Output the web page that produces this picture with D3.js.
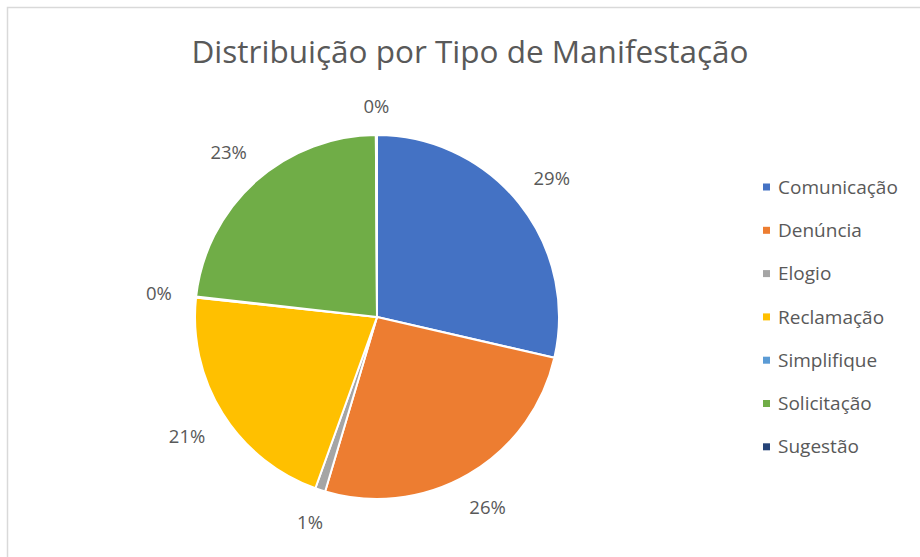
<!DOCTYPE html>
<html>
<head>
<meta charset="utf-8">
<script src="https://cdn.jsdelivr.net/npm/d3@7"></script>
<style>
  body { margin: 0; background: #fff; }
  svg { display: block; }
</style>
</head>
<body>
<svg width="920" height="557"></svg>
<script>
// data (percent of total)
var categories = ["Comunicação", "Denúncia", "Elogio", "Reclamação", "Simplifique", "Solicitação", "Sugestão"];
var values = [28.6, 26.0, 0.9, 21.2, 0.1, 23.1, 0.1];
var colors = ["#4472C4", "#ED7D31", "#A5A5A5", "#FFC000", "#5B9BD5", "#70AD47", "#264478"];

var width = 920, height = 557,
    cx = 377, cy = 317, radius = 182;

var svg = d3.select("svg");

// chart frame (only top and left edge show in the picture)
svg.append("rect")
    .attr("x", 7.5).attr("y", 7.5)
    .attr("width", width).attr("height", height)
    .attr("fill", "#fff")
    .attr("stroke", "#d9d9d9")
    .attr("stroke-width", 1.5);

svg.append("text")
    .attr("x", 470)
    .attr("y", 63)
    .attr("text-anchor", "middle")
    .attr("font-family", "Open Sans, sans-serif")
    .attr("font-size", 31.5)
    .attr("fill", "#595959")
    .text("Distribuição por Tipo de Manifestação");

var color = d3.scaleOrdinal().domain(categories).range(colors);

var pie = d3.pie().sort(null).value(function(d) { return d.value; });
var data = categories.map(function(c, i) { return {name: c, value: values[i]}; });
var arcs = pie(data);

var arc = d3.arc().innerRadius(0).outerRadius(radius);

var g = svg.append("g").attr("transform", "translate(" + cx + "," + cy + ")");

g.selectAll("path")
    .data(arcs)
    .enter().append("path")
    .attr("d", arc)
    .attr("fill", function(d) { return color(d.data.name); })
    .attr("stroke", "#fff")
    .attr("stroke-width", 2);

// outside end labels, pushed out so the label box sits just off the rim
var total = d3.sum(values);
var labels = g.selectAll("text.lbl")
    .data(arcs)
    .enter().append("text")
    .attr("class", "lbl")
    .attr("text-anchor", "middle")
    .attr("dominant-baseline", "central")
    .attr("font-family", "Open Sans, sans-serif")
    .attr("font-size", 18.5)
    .attr("fill", "#595959")
    .text(function(d) { return Math.round(d.data.value / total * 100) + "%"; });

labels.each(function(d) {
    var a = (d.startAngle + d.endAngle) / 2,
        hw = this.getComputedTextLength() / 2,
        hh = 9,
        gap = 24 - 4 * Math.abs(Math.cos(a)),
        r = radius + gap + Math.abs(Math.sin(a)) * hw + Math.abs(Math.cos(a)) * hh;
    d3.select(this)
        .attr("x", Math.sin(a) * r)
        .attr("y", -Math.cos(a) * r);
});

var legend = svg.append("g")
    .selectAll("g")
    .data(categories)
    .enter().append("g")
    .attr("transform", function(d, i) { return "translate(763," + (187 + i * 43.3) + ")"; });

legend.append("rect")
    .attr("x", 0).attr("y", -3.5)
    .attr("width", 7).attr("height", 7)
    .attr("fill", color);

legend.append("text")
    .attr("x", 15)
    .attr("dy", "0.35em")
    .attr("font-family", "Open Sans, sans-serif")
    .attr("font-size", 19)
    .attr("fill", "#595959")
    .text(function(d) { return d; });
</script>
</body>
</html>
